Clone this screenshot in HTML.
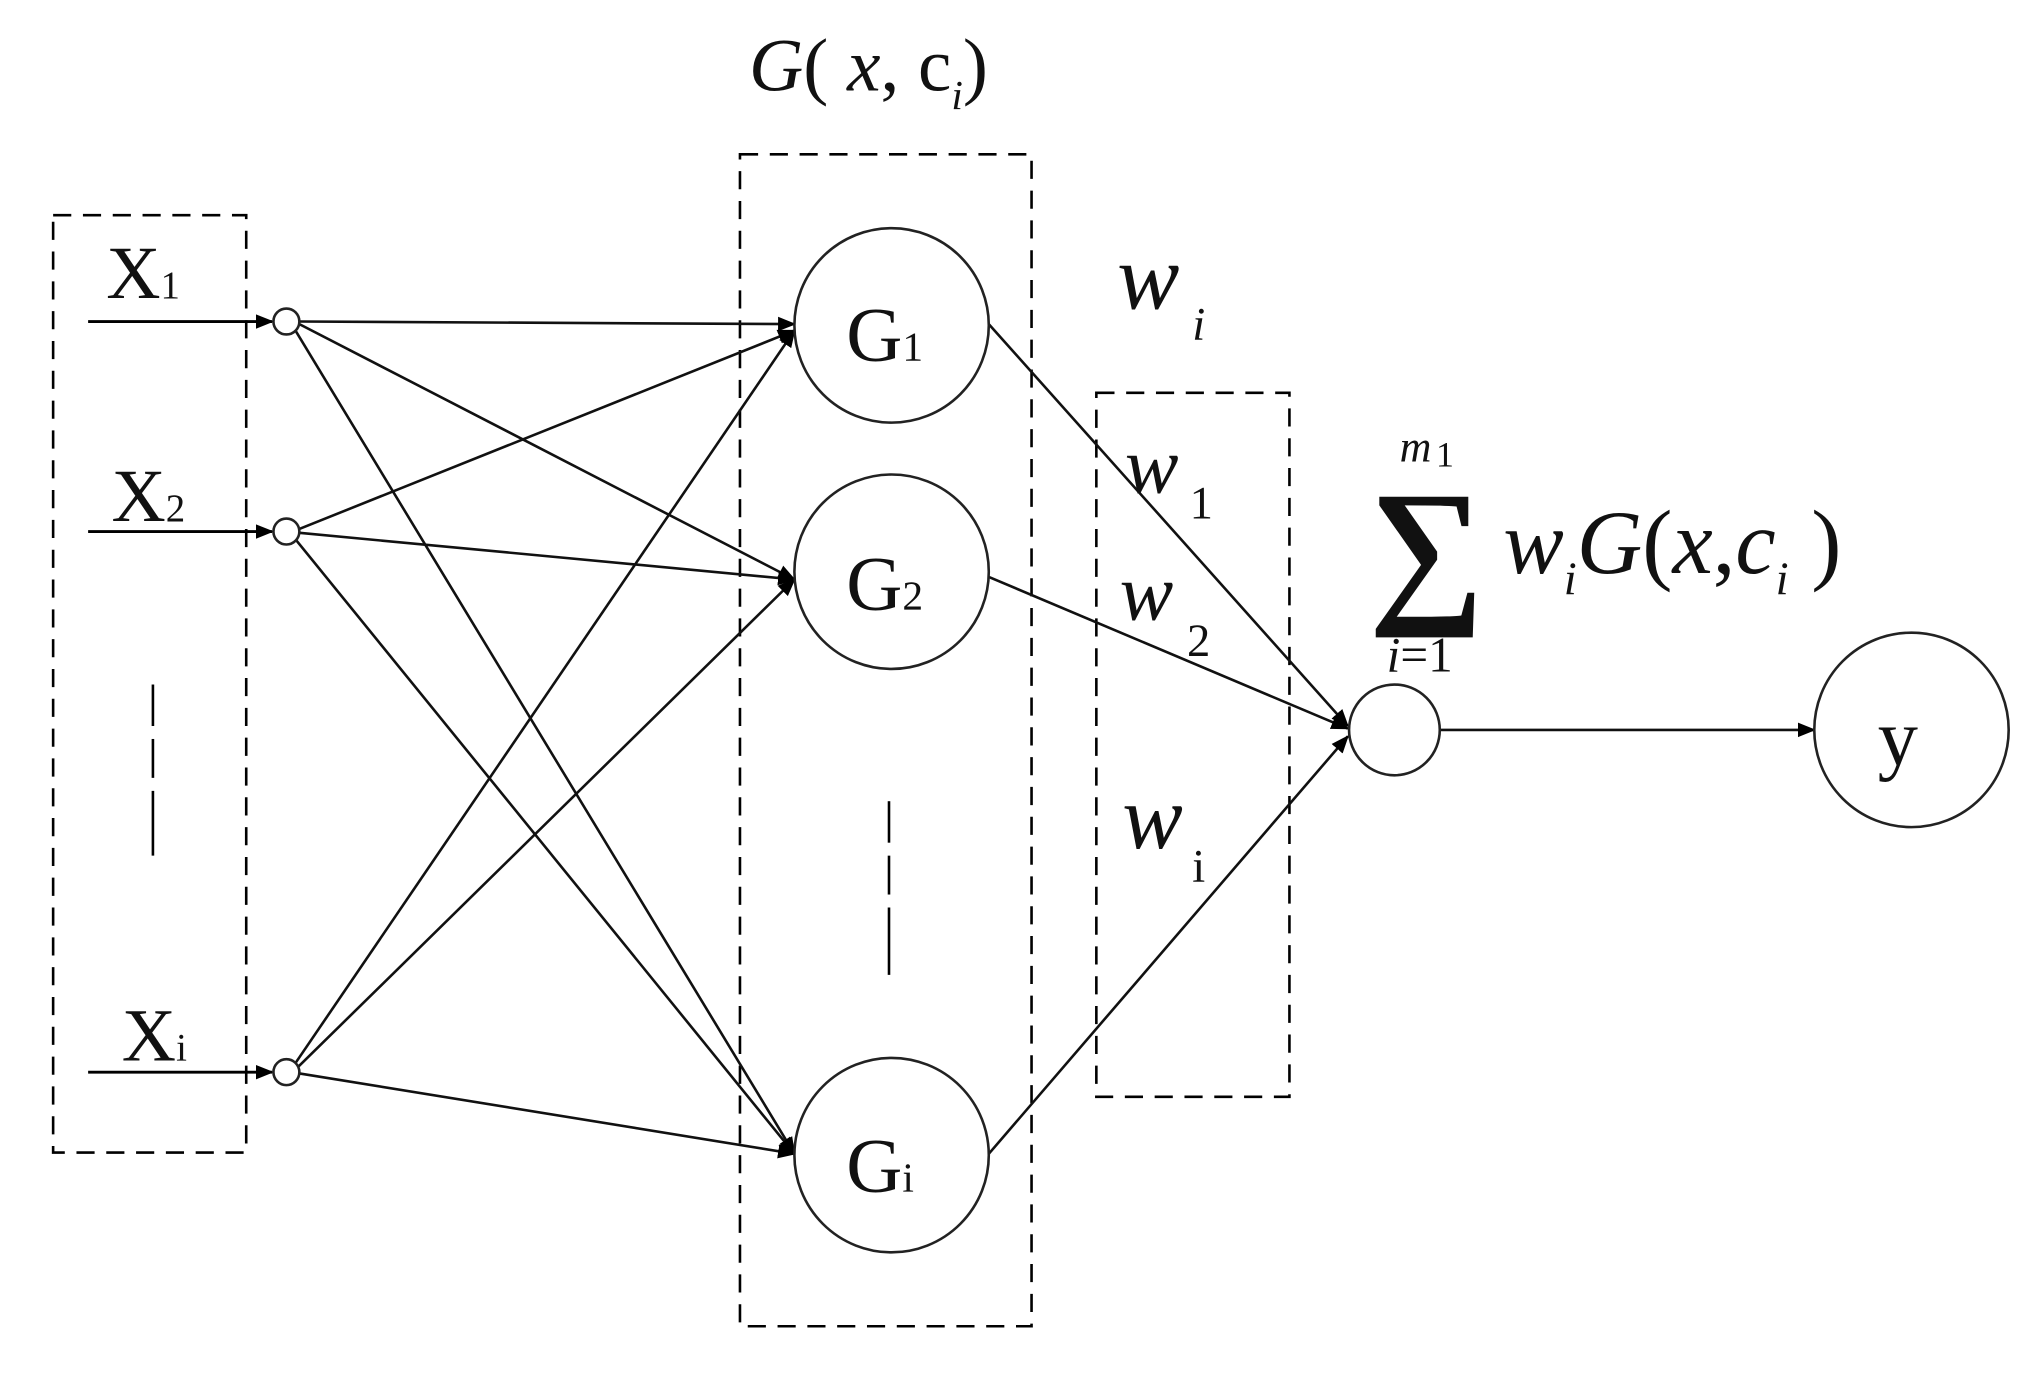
<!DOCTYPE html>
<html><head><meta charset="utf-8"><style>
html,body{margin:0;padding:0;background:#fff;}
svg{display:block;}
text{font-family:"Liberation Serif",serif;fill:#111;}
</style></head><body>
<svg width="2032" height="1382" viewBox="0 0 1568 1066" preserveAspectRatio="none" xmlns="http://www.w3.org/2000/svg">
<defs>
<marker id="b" viewBox="0 0 10 10" refX="9" refY="5" markerWidth="14" markerHeight="14" orient="auto" markerUnits="userSpaceOnUse"><path d="M0,1L10,5L0,9z" fill="#000"/></marker>
</defs>
<g fill="none" stroke="#000" stroke-width="2" stroke-dasharray="14,9">
<rect x="41" y="166" width="149" height="723"/>
<rect x="571" y="119" width="225" height="904"/>
<rect x="846" y="303" width="149" height="543"/>
</g>
<g stroke="#000" stroke-width="2">
<line x1="118" y1="528" x2="118" y2="560"/><line x1="118" y1="570" x2="118" y2="600"/><line x1="118" y1="610" x2="118" y2="660"/>
<line x1="686" y1="618" x2="686" y2="650"/><line x1="686" y1="660" x2="686" y2="690"/><line x1="686" y1="700" x2="686" y2="752"/>
</g>
<g stroke="#000" stroke-width="2.2" fill="none">
<line x1="68" y1="248" x2="210" y2="248" marker-end="url(#b)"/>
<line x1="68" y1="410" x2="210" y2="410" marker-end="url(#b)"/>
<line x1="68" y1="827" x2="210" y2="827" marker-end="url(#b)"/>
</g>
<g stroke="#111" stroke-width="2" fill="none">
<line x1="231" y1="248" x2="613" y2="250" marker-end="url(#b)"/>
<line x1="231" y1="250" x2="613" y2="447" marker-end="url(#b)"/>
<line x1="228" y1="255" x2="613" y2="890" marker-end="url(#b)"/>
<line x1="231" y1="408" x2="613" y2="255" marker-end="url(#b)"/>
<line x1="231" y1="411" x2="613" y2="447" marker-end="url(#b)"/>
<line x1="228" y1="416" x2="613" y2="890" marker-end="url(#b)"/>
<line x1="228" y1="820" x2="613" y2="255" marker-end="url(#b)"/>
<line x1="230" y1="823" x2="613" y2="447" marker-end="url(#b)"/>
<line x1="231" y1="828" x2="613" y2="890" marker-end="url(#b)"/>
<line x1="763" y1="250" x2="1040" y2="560" marker-end="url(#b)"/>
<line x1="763" y1="445" x2="1040" y2="562" marker-end="url(#b)"/>
<line x1="763" y1="890" x2="1040" y2="568" marker-end="url(#b)"/>
<line x1="1111" y1="563" x2="1400" y2="563" marker-end="url(#b)"/>
</g>
<g fill="#fff" stroke="#222" stroke-width="2">
<circle cx="221" cy="248" r="10"/><circle cx="221" cy="410" r="10"/><circle cx="221" cy="827" r="10"/>
<circle cx="688" cy="251" r="75"/><circle cx="688" cy="441" r="75"/><circle cx="688" cy="891" r="75"/>
<circle cx="1076" cy="563" r="35"/><circle cx="1475" cy="563" r="75"/>
</g>
<text x="82" y="230" font-size="58">X<tspan font-size="30">1</tspan></text>
<text x="86" y="402" font-size="58">X<tspan font-size="30">2</tspan></text>
<text x="94" y="818" font-size="58">X<tspan font-size="30">i</tspan></text>
<text x="653" y="278" font-size="60">G<tspan font-size="32">1</tspan></text>
<text x="653" y="470" font-size="60">G<tspan font-size="32">2</tspan></text>
<text x="653" y="919" font-size="60">G<tspan font-size="32">i</tspan></text>
<text x="1449" y="590" font-size="62">y</text>
<text x="578" y="70" font-size="58"><tspan font-style="italic">G</tspan>( <tspan font-style="italic">x</tspan>, c<tspan font-size="32" font-style="italic" dy="14">i</tspan><tspan dy="-14">)</tspan></text>
<text x="862" y="238" font-size="72" font-style="italic">w</text><text x="920" y="262" font-size="36" font-style="italic">i</text>
<text x="868" y="380" font-size="62" font-style="italic">w</text><text x="918" y="400" font-size="36">1</text>
<text x="864" y="478" font-size="62" font-style="italic">w</text><text x="916" y="506" font-size="36">2</text>
<text x="866" y="654" font-size="70" font-style="italic">w</text><text x="920" y="680" font-size="36">i</text>
<text x="1080" y="356" font-size="34" font-style="italic">m</text><text x="1108" y="360" font-size="28">1</text>
<text x="1056" y="465" font-size="125" font-weight="bold">∑</text>
<text x="1070" y="518" font-size="38"><tspan font-style="italic">i</tspan>=1</text>
<text x="1160" y="442" font-size="70"><tspan font-style="italic">w</tspan><tspan font-size="36" font-style="italic" dy="16">i</tspan><tspan dy="-16" font-style="italic">G</tspan>(<tspan font-style="italic">x</tspan>,<tspan font-style="italic">c</tspan><tspan font-size="36" font-style="italic" dy="16">i</tspan><tspan dy="-16"> )</tspan></text>
</svg>
</body></html>
